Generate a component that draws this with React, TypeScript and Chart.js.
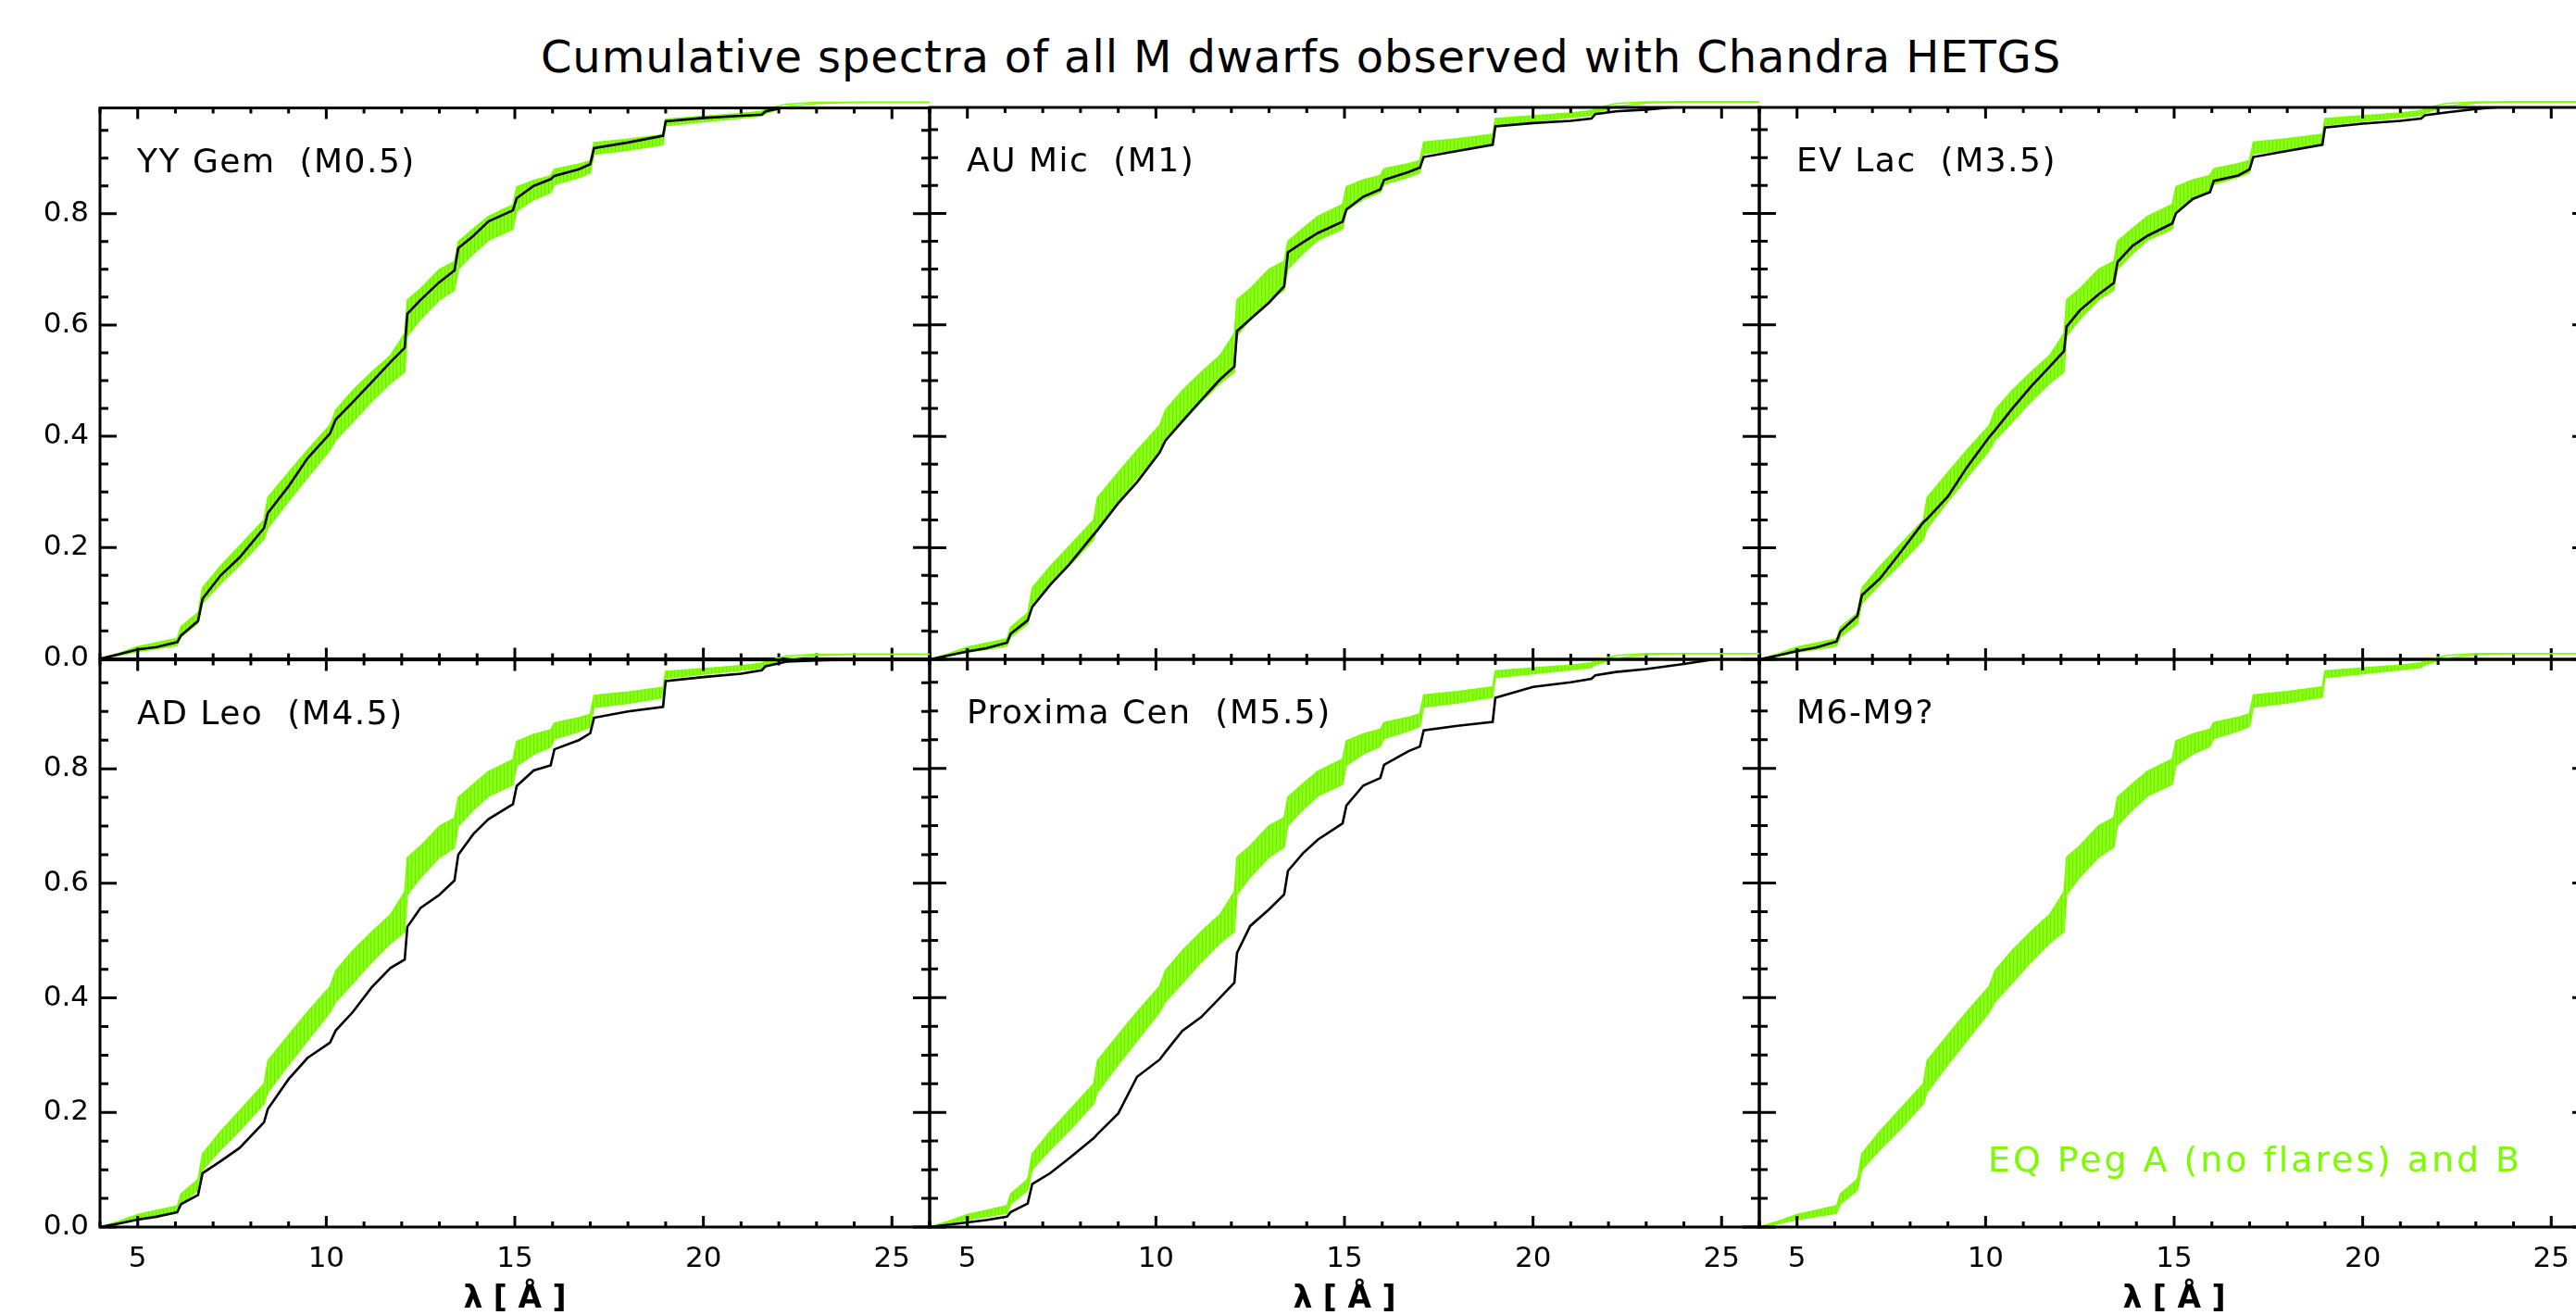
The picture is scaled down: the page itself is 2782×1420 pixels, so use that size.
import React, { useEffect, useRef } from 'react';
import { Chart, registerables } from 'chart.js';

Chart.register(...registerables);

// ---------------- data ----------------
const TITLE = 'Cumulative spectra of all M dwarfs observed with Chandra HETGS';
const X_TITLE = 'λ [ Å ]';
const LEGEND_TEXT = 'EQ Peg A (no flares) and B';

const X_MIN = 4;
const X_MAX = 26;
const Y_MIN = 0;
const Y_MAX = 0.99;
const X_MAJOR = [5, 10, 15, 20, 25];
const X_MINOR = [4, 6, 7, 8, 9, 11, 12, 13, 14, 16, 17, 18, 19, 21, 22, 23, 24, 26];
const Y_MAJOR = [0, 0.2, 0.4, 0.6, 0.8];
const Y_MINOR = [0.05, 0.1, 0.15, 0.25, 0.3, 0.35, 0.45, 0.5, 0.55, 0.65, 0.7, 0.75, 0.85, 0.9, 0.95];

// wavelength grid (Angstrom)
const WAVELENGTH = [4.0, 4.5, 5.0, 5.5, 6.05, 6.15, 6.6, 6.72, 7.2, 7.7, 8.35, 8.45, 9.0, 9.5, 10.1, 10.25, 10.7, 11.2, 11.7, 12.08, 12.15, 12.5, 13.0, 13.4, 13.5, 13.9, 14.3, 14.95, 15.05, 15.5, 15.95, 16.05, 16.7, 17.0, 17.1, 18.0, 18.93, 19.0, 20.0, 21.0, 21.55, 21.65, 22.2, 23.0, 24.0, 25.0, 26.0];

// EQ Peg A (no flares) and B : lower / upper envelope
const EQPEG_LOW = [0, 0.006, 0.013, 0.018, 0.024, 0.040, 0.064, 0.100, 0.135, 0.168, 0.215, 0.235, 0.283, 0.325, 0.375, 0.393, 0.425, 0.462, 0.495, 0.515, 0.580, 0.610, 0.645, 0.662, 0.700, 0.728, 0.752, 0.772, 0.805, 0.825, 0.838, 0.852, 0.865, 0.873, 0.907, 0.914, 0.924, 0.958, 0.965, 0.972, 0.976, 0.980, 0.992, 0.998, 1.0, 1.0, 1.0];
const EQPEG_HIGH = [0, 0.010, 0.022, 0.029, 0.037, 0.058, 0.083, 0.128, 0.167, 0.203, 0.250, 0.290, 0.335, 0.375, 0.420, 0.447, 0.482, 0.515, 0.545, 0.585, 0.645, 0.665, 0.700, 0.714, 0.750, 0.773, 0.795, 0.816, 0.848, 0.860, 0.868, 0.880, 0.889, 0.895, 0.928, 0.934, 0.942, 0.970, 0.975, 0.980, 0.984, 0.988, 0.997, 1.0, 1.0, 1.0, 1.0];

const YY_GEM = [0, 0.008, 0.017, 0.021, 0.030, 0.042, 0.068, 0.108, 0.150, 0.182, 0.235, 0.262, 0.310, 0.360, 0.405, 0.430, 0.461, 0.497, 0.533, 0.559, 0.620, 0.645, 0.677, 0.698, 0.738, 0.760, 0.786, 0.806, 0.828, 0.850, 0.862, 0.868, 0.880, 0.889, 0.918, 0.928, 0.940, 0.966, 0.972, 0.976, 0.978, 0.984, 0.992, 1.0, 1.0, 1.0, 1.0];
const AU_MIC = [0, 0.007, 0.014, 0.020, 0.030, 0.046, 0.070, 0.094, 0.134, 0.170, 0.224, 0.232, 0.280, 0.318, 0.371, 0.392, 0.427, 0.465, 0.502, 0.525, 0.589, 0.610, 0.640, 0.669, 0.730, 0.748, 0.765, 0.785, 0.807, 0.830, 0.843, 0.860, 0.874, 0.882, 0.901, 0.912, 0.923, 0.956, 0.962, 0.966, 0.970, 0.978, 0.983, 0.986, 0.992, 0.998, 1.0];
const EV_LAC = [0, 0.007, 0.015, 0.021, 0.032, 0.050, 0.078, 0.115, 0.145, 0.188, 0.246, 0.252, 0.292, 0.344, 0.399, 0.411, 0.449, 0.489, 0.525, 0.553, 0.597, 0.626, 0.655, 0.675, 0.713, 0.742, 0.760, 0.782, 0.800, 0.826, 0.838, 0.858, 0.868, 0.879, 0.901, 0.912, 0.923, 0.954, 0.961, 0.966, 0.970, 0.976, 0.981, 0.987, 0.993, 0.998, 1.0];
const AD_LEO = [0, 0.006, 0.013, 0.018, 0.026, 0.040, 0.056, 0.094, 0.115, 0.138, 0.183, 0.206, 0.258, 0.295, 0.322, 0.343, 0.375, 0.418, 0.452, 0.467, 0.524, 0.557, 0.580, 0.605, 0.650, 0.686, 0.712, 0.738, 0.770, 0.797, 0.806, 0.834, 0.850, 0.862, 0.889, 0.900, 0.908, 0.953, 0.960, 0.966, 0.972, 0.979, 0.987, 0.989, 0.991, 0.995, 1.0];
const PROXIMA_CEN = [0, 0.004, 0.008, 0.012, 0.018, 0.026, 0.041, 0.075, 0.094, 0.120, 0.155, 0.162, 0.198, 0.262, 0.292, 0.305, 0.342, 0.366, 0.400, 0.426, 0.478, 0.525, 0.554, 0.580, 0.621, 0.652, 0.676, 0.704, 0.735, 0.770, 0.783, 0.806, 0.830, 0.838, 0.866, 0.874, 0.881, 0.923, 0.942, 0.950, 0.956, 0.962, 0.968, 0.973, 0.982, 0.992, 1.0];

const PANEL_LABELS = ['YY Gem  (M0.5)', 'AU Mic  (M1)', 'EV Lac  (M3.5)', 'AD Leo  (M4.5)', 'Proxima Cen  (M5.5)', 'M6-M9?'];
const PANEL_STARS: (number[] | null)[] = [YY_GEM, AU_MIC, EV_LAC, AD_LEO, PROXIMA_CEN, null];

// ---------------- layout ----------------
const W = 2782;
const H = 1420;
const COL_EDGES = [108, 1004, 1900, 2796];
const ROW_EDGES = [116, 712, 1325];
const FONT = "'DejaVu Sans', 'Liberation Sans', sans-serif";
const GREEN = '#7CFC00';

function makeHatch(ctx: CanvasRenderingContext2D) {
  const c = document.createElement('canvas');
  c.width = 4;
  c.height = 8;
  const g = c.getContext('2d')!;
  g.fillStyle = '#86FF14';
  g.fillRect(0, 0, 4, 8);
  g.fillStyle = '#74E602';
  g.fillRect(0, 0, 1, 8);
  return ctx.createPattern(c, 'repeat')!;
}

function Panel({ index }: { index: number }) {
  const ref = useRef<HTMLCanvasElement>(null);
  const col = index % 3;
  const row = Math.floor(index / 3);
  const pL = col === 0 ? COL_EDGES[0] : 30;
  const pT = 30;
  const pR = 30;
  const pB = row === 1 ? H - ROW_EDGES[2] : 30;
  const left = COL_EDGES[col] - pL;
  const top = ROW_EDGES[row] - pT;
  const width = COL_EDGES[col + 1] - COL_EDGES[col] + pL + pR;
  const height = ROW_EDGES[row + 1] - ROW_EDGES[row] + pT + pB;

  useEffect(() => {
    const canvas = ref.current!;
    const ctx = canvas.getContext('2d')!;
    const hatch = makeHatch(ctx);
    const star = PANEL_STARS[index];
    const pts = (arr: number[]) => WAVELENGTH.map((x, i) => ({ x, y: arr[i] }));
    const bandClip = { left: 0, top: 8, right: 0, bottom: 0 };
    const datasets: any[] = [
      { data: pts(EQPEG_LOW), borderColor: GREEN, borderWidth: 1.5, pointRadius: 0, fill: false, order: 2, clip: bandClip },
      { data: pts(EQPEG_HIGH), borderColor: GREEN, borderWidth: 1.5, pointRadius: 0, fill: '-1', backgroundColor: hatch, order: 1, clip: bandClip },
    ];
    if (star) {
      datasets.push({ data: pts(star), borderColor: '#000', borderWidth: 2.6, pointRadius: 0, fill: false, order: 0, clip: 0 });
    }

    const frame = {
      id: 'frame',
      afterDraw(chart: any) {
        const { ctx: c, chartArea: a, scales } = chart;
        const sx = scales.x;
        const sy = scales.y;
        c.save();
        c.strokeStyle = '#000';
        c.lineWidth = 3;
        c.strokeRect(a.left, a.top, a.right - a.left, a.bottom - a.top);
        c.beginPath();
        const xt = (v: number, len: number) => {
          const p = sx.getPixelForValue(v);
          c.moveTo(p, a.bottom); c.lineTo(p, a.bottom - len);
          c.moveTo(p, a.top); c.lineTo(p, a.top + len);
        };
        const yt = (v: number, len: number) => {
          const p = sy.getPixelForValue(v);
          c.moveTo(a.left, p); c.lineTo(a.left + len, p);
          c.moveTo(a.right, p); c.lineTo(a.right - len, p);
        };
        X_MAJOR.forEach((v) => xt(v, 12));
        X_MINOR.forEach((v) => xt(v, 6));
        Y_MAJOR.forEach((v) => yt(v, 18));
        Y_MINOR.forEach((v) => yt(v, 9));
        c.stroke();

        c.fillStyle = '#000';
        c.textAlign = 'left';
        c.textBaseline = 'alphabetic';
        c.font = `36px ${FONT}`;
        (c as any).letterSpacing = '1.5px';
        c.fillText(PANEL_LABELS[index], a.left + 40, a.top + 69);

        if (index === 5) {
          c.fillStyle = GREEN;
          c.font = `38px ${FONT}`;
          (c as any).letterSpacing = '0px';
          const m = c.measureText(LEGEND_TEXT).width;
          const sp = Math.max(0, (577 - m) / LEGEND_TEXT.length);
          (c as any).letterSpacing = `${sp.toFixed(2)}px`;
          c.fillText(LEGEND_TEXT, a.left + 247, a.bottom - 60);
        }
        if (row === 1) {
          c.fillStyle = '#000';
          c.font = `bold 33px ${FONT}`;
          (c as any).letterSpacing = '0px';
          c.textAlign = 'center';
          c.textBaseline = 'middle';
          c.fillText(X_TITLE, (a.left + a.right) / 2, a.bottom + 78);
        }
        c.restore();
      },
    };

    const chart = new Chart(canvas, {
      type: 'line',
      data: { datasets },
      options: {
        responsive: false,
        animation: false,
        devicePixelRatio: 1,
        events: [],
        layout: { padding: { left: 0, top: pT, right: pR, bottom: 0 } },
        elements: { line: { tension: 0 }, point: { radius: 0 } },
        plugins: { legend: { display: false }, tooltip: { enabled: false }, title: { display: false } },
        scales: {
          x: {
            type: 'linear',
            min: X_MIN,
            max: X_MAX,
            afterBuildTicks: (s: any) => { s.ticks = X_MAJOR.map((v) => ({ value: v })); },
            afterFit: (s: any) => { s.height = pB; },
            grid: { display: false, drawTicks: false },
            border: { display: false },
            ticks: {
              display: row === 1,
              padding: 16,
              autoSkip: false,
              maxRotation: 0,
              color: '#000',
              font: { family: FONT, size: 31 },
              callback: (v: any) => String(v),
            },
          },
          y: {
            type: 'linear',
            min: Y_MIN,
            max: Y_MAX,
            afterBuildTicks: (s: any) => { s.ticks = Y_MAJOR.map((v) => ({ value: v })); },
            afterFit: (s: any) => { s.width = pL; },
            grid: { display: false, drawTicks: false },
            border: { display: false },
            ticks: {
              display: col === 0,
              padding: 12,
              autoSkip: false,
              color: '#000',
              font: { family: FONT, size: 31 },
              callback: (v: any) => Number(v).toFixed(1),
            },
          },
        },
      } as any,
      plugins: [frame],
    });
    return () => chart.destroy();
  }, []);

  return (
    <canvas
      ref={ref}
      width={width}
      height={height}
      style={{ position: 'absolute', left, top, width, height }}
    />
  );
}

export default function App() {
  return (
    <div style={{ position: 'fixed', left: 0, top: 0, width: W, height: H, overflow: 'hidden', background: '#fff' }}>
      <div
        style={{
          position: 'absolute', left: 0, top: 37, width: 2810, textAlign: 'center',
          font: `48px ${FONT}`, lineHeight: '48px', letterSpacing: '0.9px', color: '#000', whiteSpace: 'pre',
        }}
      >
        {TITLE}
      </div>
      {[0, 1, 2, 3, 4, 5].map((i) => (
        <Panel key={i} index={i} />
      ))}
    </div>
  );
}
